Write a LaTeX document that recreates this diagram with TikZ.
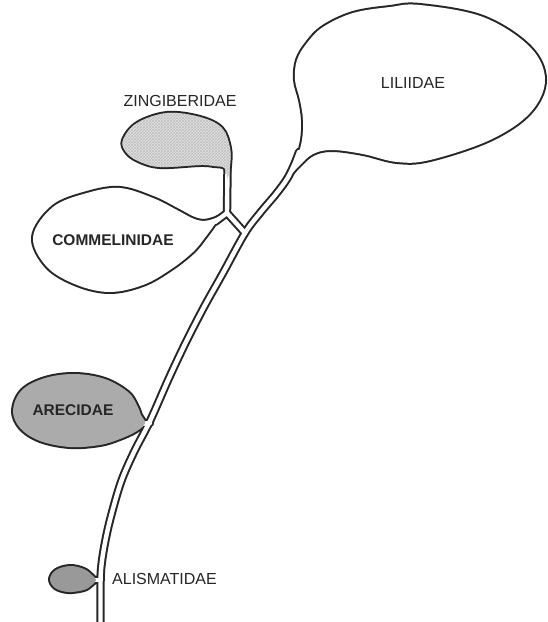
\documentclass[tikz,border=0pt]{standalone}
\usepackage{fontspec}
\setmainfont{Liberation Sans}
\usetikzlibrary{patterns}
\begin{document}
\begin{tikzpicture}[x=1pt,y=-1pt,
  tubeout/.style={line width=8.4pt, draw=black!85, line cap=round, line join=round},
  tubein/.style={line width=4.4pt, draw=white, line cap=round, line join=round},
  blobout/.style={line width=4pt, draw=black!85, line join=round},
  lbl/.style={font=\fontsize{16}{19}\selectfont, text=black!85, inner sep=0pt},
  lblb/.style={font=\fontsize{15.5}{19}\selectfont\bfseries, text=black!85, inner sep=0pt}]
\useasboundingbox[fill=white] (0,0) rectangle (548,622);
% junctions
\coordinate (J1) at (227,213);
\coordinate (J2) at (245,233);
\coordinate (AR) at (150,423);
\coordinate (AL) at (100.5,580);
\coordinate (ZT) at (227.5,170);
\coordinate (CT) at (215,222);
\coordinate (RT) at (140,424);
\coordinate (LT) at (93,580);
% shapes
\def\stem{plot[smooth,tension=0.55] coordinates {(100.5,640) (100.5,590) (101,570) (104,548) (110,520) (121,482) (134,452) (150,421) (169,378) (186,342) (204,307) (223,273) (245,233) (260,213) (276,194) (287,179) (294,165) (299,152)}}
\def\lil{plot[smooth cycle,tension=0.6] coordinates {(290,175) (297,158) (302,140) (303,120) (300,100) (295,80) (297,60) (307,43) (323,27) (353,13) (390,7) (420,5) (483,17) (530,47) (545,80) (530,113) (490,140) (430,160) (397,162) (363,154) (332,150) (313,154) (299,166)}}
\def\zing{plot[smooth cycle,tension=0.6] coordinates {(123,140) (137,123) (167,113) (200,117) (222,128) (230,148) (230,166) (227.5,178) (224.5,168) (214,166) (200,165) (160,167) (138,161) (126,152)}}
\def\comm{plot[smooth cycle,tension=0.6] coordinates {(120,188) (87,193) (53,207) (33,237) (47,267) (77,285) (110,292) (143,285) (170,270) (193,252) (207,235) (215,224) (221,216) (213,219) (203,221) (192,218) (177,210) (153,198)}}
\def\arec{plot[smooth cycle,tension=0.6] coordinates {(13,410) (22,390) (45,378) (75,374) (105,379) (128,392) (137,405) (141,415) (145,423) (137,431) (120,439) (100,445) (70,447) (40,441) (20,428)}}
\def\alis{plot[smooth cycle,tension=0.6] coordinates {(50,579) (56,570) (70,566) (84,569) (92,575) (96,580) (92,585) (84,590) (68,592) (55,588)}}
% black layer
\draw[blobout] \lil;
\draw[blobout] \zing;
\draw[blobout] \comm;
\draw[blobout] \arec;
\draw[blobout] \alis;
\draw[tubeout] \stem;
\draw[tubeout] (J2) -- (J1);
\draw[tubeout] (J1) -- (ZT);
\draw[tubeout] (J1) -- (CT);
\draw[tubeout] (AR) -- (RT);
\draw[tubeout] (AL) -- (LT);
% white tube interiors
\draw[tubein] \stem;
\draw[tubein] (J2) -- (J1);
\draw[tubein] (J1) -- (ZT);
\draw[tubein] (J1) -- (CT);
\draw[tubein] (AR) -- (RT);
\draw[tubein] (AL) -- (LT);
% blob fills
\fill[white] \lil;
\fill[white] \comm;
\fill[gray!22] \zing;
\fill[pattern=crosshatch, pattern color=gray!50] \zing;
\fill[gray!66] \arec;
\fill[gray!80] \alis;
% labels
\node[lbl] (lil) at (413,83) {LILIIDAE};
\node[lbl] (zin) at (180,101) {ZINGIBERIDAE};
\node[lblb] (com) at (113,240) {COMMELINIDAE};
\node[lblb] (are) at (73,410) {ARECIDAE};
\node[lbl,anchor=west] (ali) at (112,579) {ALISMATIDAE};
\end{tikzpicture}
\end{document}
